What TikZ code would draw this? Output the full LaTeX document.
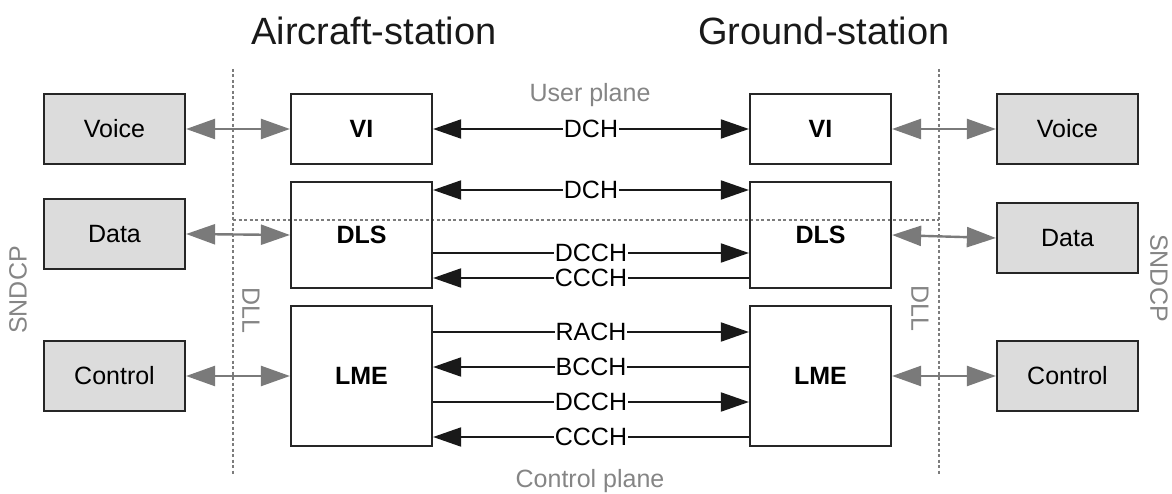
\documentclass[tikz,border=0pt]{standalone}
\usepackage{fontspec}
\setmainfont{Liberation Sans}
\usetikzlibrary{arrows.meta}
\definecolor{txtgray}{HTML}{858585}
\definecolor{arrgray}{HTML}{7A7A7A}
\definecolor{boxfill}{HTML}{DCDCDC}
\definecolor{dotgray}{HTML}{7C7C7C}
\begin{document}
\begin{tikzpicture}[x=1pt,y=-1pt,
  lbl/.style={font=\fontsize{25}{29}\selectfont},
  userbox/.style={draw=black!85, line width=2.2pt, fill=boxfill, minimum width=141pt, minimum height=70pt, inner sep=0pt, lbl},
  entbox/.style={draw=black!85, line width=2.2pt, minimum width=141pt, inner sep=0pt, font=\fontsize{25}{29}\selectfont\bfseries},
  chan/.style={line width=1.9pt, black!90, -{Triangle[length=28pt,width=19pt]}},
  chanboth/.style={line width=1.9pt, black!90, {Triangle[length=28pt,width=19pt]}-{Triangle[length=28pt,width=19pt]}},
  chlabel/.style={midway, fill=white, inner sep=1pt, lbl, text=black},
  garrow/.style={line width=2.4pt, arrgray, {Triangle[length=29pt,width=20pt]}-{Triangle[length=29pt,width=20pt]}},
  dotline/.style={dotgray, line width=1.8pt, dash pattern=on 3pt off 2.5pt},
  graytext/.style={text=txtgray, lbl},
  title/.style={font=\fontsize{38}{44}\selectfont, text=black!90}
]
\useasboundingbox (0,0) rectangle (1172,494);

% titles
\node[title] (tA) at (374,31) {Aircraft-station};
\node[title] (tG) at (824,31) {Ground-station};

% plane labels
\node[graytext] (up) at (590,95) {User plane};
\node[graytext] (cp) at (590,481) {Control plane};

% dotted separators
\coordinate (l1) at (233,69);
\coordinate (l2) at (233,474);
\coordinate (r1) at (939,69);
\coordinate (r2) at (939,475);
\coordinate (h2) at (939,220);
\coordinate (h1) at (233,220);
\draw[dotline] (l1) -- (l2);
\draw[dotline] (r1) -- (r2);
\draw[dotline] (h1) -- (h2);

% side labels
\node[graytext, rotate=-90] (dllL) at (251,310) {DLL};
\node[graytext, rotate=-90] (dllR) at (920,308) {DLL};
\node[graytext, rotate=90] (sndL) at (18,290) {SNDCP};
\node[graytext, rotate=-90] (sndR) at (1159,278) {SNDCP};

% user boxes
\node[userbox] (voiceL) at (114.5,129) {Voice};
\node[userbox] (dataL) at (114.5,234) {Data};
\node[userbox] (ctrlL) at (114.5,376) {Control};
\node[userbox] (voiceR) at (1067.5,129) {Voice};
\node[userbox] (dataR) at (1067.5,238) {Data};
\node[userbox] (ctrlR) at (1067.5,376) {Control};

% entity boxes
\node[entbox, minimum height=70pt] (viL) at (361.5,129) {VI};
\node[entbox, minimum height=106pt] (dlsL) at (361.5,235) {DLS};
\node[entbox, minimum height=140pt] (lmeL) at (361.5,376) {LME};
\node[entbox, minimum height=70pt] (viR) at (820.5,129) {VI};
\node[entbox, minimum height=106pt] (dlsR) at (820.5,235) {DLS};
\node[entbox, minimum height=140pt] (lmeR) at (820.5,376) {LME};

% gray arrows
\draw[garrow] (voiceL.east) -- (viL.west);
\draw[garrow] (dataL.east) -- (dlsL.west);
\draw[garrow] (ctrlL.east) -- (lmeL.west);
\draw[garrow] (viR.east) -- (voiceR.west);
\draw[garrow] (dlsR.east) -- (dataR.west);
\draw[garrow] (lmeR.east) -- (ctrlR.west);

% channels
\draw[chanboth] (viL.east) -- (viR.west) node[chlabel] {DCH};
\draw[chanboth] ([yshift=45pt]dlsL.east) -- ([yshift=45pt]dlsR.west) node[chlabel] {DCH};
\draw[chan] ([yshift=-18pt]dlsL.east) -- ([yshift=-18pt]dlsR.west) node[chlabel] {DCCH};
\draw[chan] ([yshift=-43pt]dlsR.west) -- ([yshift=-43pt]dlsL.east) node[chlabel] {CCCH};
\draw[chan] ([yshift=44pt]lmeL.east) -- ([yshift=44pt]lmeR.west) node[chlabel] {RACH};
\draw[chan] ([yshift=9pt]lmeR.west) -- ([yshift=9pt]lmeL.east) node[chlabel] {BCCH};
\draw[chan] ([yshift=-26pt]lmeL.east) -- ([yshift=-26pt]lmeR.west) node[chlabel] {DCCH};
\draw[chan] ([yshift=-61pt]lmeR.west) -- ([yshift=-61pt]lmeL.east) node[chlabel] {CCCH};
\end{tikzpicture}
\end{document}
